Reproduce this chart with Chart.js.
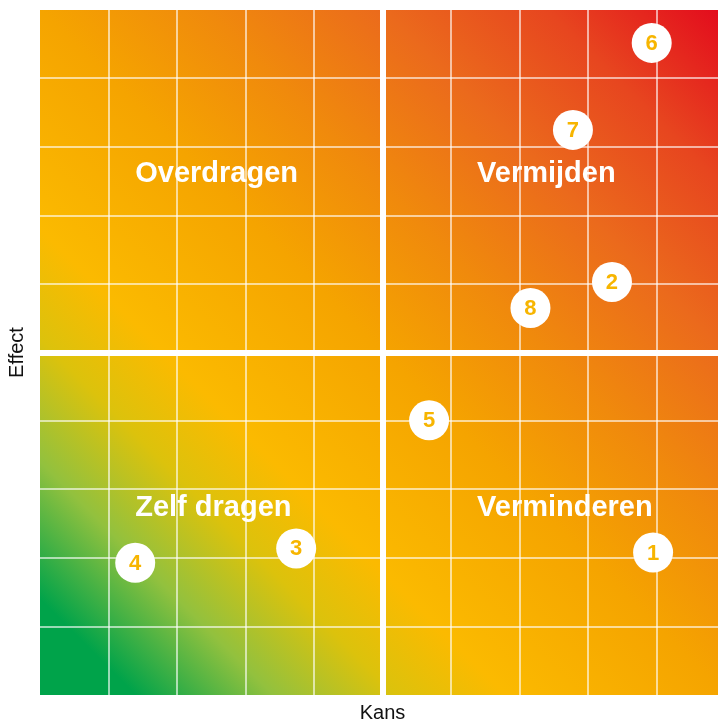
<!DOCTYPE html>
<html>
<head>
<meta charset="utf-8">
<script src="https://cdn.jsdelivr.net/npm/chart.js@4/dist/chart.umd.min.js"></script>
<style>
  html, body { margin: 0; padding: 0; background: #fff; overflow: hidden; }
  #chartReport { position: absolute; left: 0; top: 0; width: 725px; height: 726px; }
</style>
</head>
<body>
<div id="chartReport"><canvas id="chart"></canvas></div>
<script>
const riskLabels = ["1", "2", "3", "4", "5", "6", "7", "8"];
const kans = [8.95, 8.35, 3.74, 1.39, 5.68, 8.93, 7.78, 7.16];
const effect = [2.08, 6.03, 2.14, 1.93, 4.01, 9.52, 8.25, 5.65];

const quadrantLabels = ["Overdragen", "Vermijden", "Zelf dragen", "Verminderen"];
const quadrantKans = [1.39, 6.38, 1.39, 6.38];
const quadrantEffect = [7.6, 7.6, 2.73, 2.73];

const gradientStops = [
  [0, "#00a34a"],
  [0.07, "#00a34a"],
  [0.17, "#92c13e"],
  [0.26, "#dcc20c"],
  [0.34, "#fbba00"],
  [0.5, "#f5a400"],
  [0.62, "#f08a0c"],
  [0.75, "#eb6a1c"],
  [0.87, "#e7461f"],
  [1, "#e30a1d"],
];

const points = kans.map((k, i) => ({ x: k, y: effect[i] }));

// diagonal background, green bottom-left to red top-right
const backgroundPlugin = {
  id: "background",
  beforeDraw(chart) {
    const { ctx, chartArea } = chart;
    const g = ctx.createLinearGradient(chartArea.left, chartArea.bottom, chartArea.right, chartArea.top);
    gradientStops.forEach((s) => g.addColorStop(s[0], s[1]));
    ctx.save();
    ctx.fillStyle = g;
    ctx.fillRect(chartArea.left, chartArea.top, chartArea.right - chartArea.left, chartArea.bottom - chartArea.top);
    ctx.restore();
  },
  beforeDatasetsDraw(chart) {
    const { ctx, scales } = chart;
    ctx.save();
    ctx.fillStyle = "#ffffff";
    ctx.font = "bold 29px 'Liberation Sans', Arial, sans-serif";
    ctx.textAlign = "left";
    ctx.textBaseline = "middle";
    quadrantLabels.forEach((label, i) => {
      ctx.fillText(label, scales.x.getPixelForValue(quadrantKans[i]), scales.y.getPixelForValue(quadrantEffect[i]));
    });
    ctx.restore();
  },
  afterDatasetsDraw(chart) {
    const { ctx } = chart;
    const meta = chart.getDatasetMeta(0);
    ctx.save();
    ctx.fillStyle = "#f7b500";
    ctx.font = "bold 22px 'Liberation Sans', Arial, sans-serif";
    ctx.textAlign = "center";
    ctx.textBaseline = "middle";
    meta.data.forEach((el, i) => {
      ctx.fillText(riskLabels[i], el.x, el.y + 1);
    });
    ctx.restore();
  },
};

function gridColor(c) {
  if (c.tick.value === 5) return "#ffffff";
  if (c.tick.value === 0 || c.tick.value === 10) return "rgba(255,255,255,0)";
  return "rgba(255,255,255,0.6)";
}

function gridWidth(c) {
  return c.tick.value === 5 ? 6 : 2;
}

const ctx = document.getElementById("chart").getContext("2d");
const myChart = new Chart(ctx, {
  type: "scatter",
  data: {
    datasets: [
      {
        label: "Risico",
        data: points,
        pointRadius: 20,
        pointHoverRadius: 20,
        pointBackgroundColor: "#ffffff",
        pointBorderWidth: 0,
      },
    ],
  },
  options: {
    responsive: true,
    maintainAspectRatio: false,
    animation: false,
    layout: { autoPadding: false, padding: { top: 10, right: 0, left: 0, bottom: 0 } },
    plugins: { legend: { display: false }, tooltip: { enabled: false } },
    scales: {
      x: {
        type: "linear",
        min: 0,
        max: 10,
        ticks: { stepSize: 1, display: false },
        grid: { color: gridColor, lineWidth: gridWidth, drawTicks: false },
        border: { display: false },
        title: {
          display: true,
          text: "Kans",
          color: "#111111",
          font: { family: "'Liberation Sans', Arial, sans-serif", size: 20 },
          padding: { top: 0, bottom: 1 },
        },
        afterFit(scale) {
          scale.height = 31;
        },
      },
      y: {
        type: "linear",
        min: 0,
        max: 10,
        ticks: { stepSize: 1, display: false },
        grid: { color: gridColor, lineWidth: gridWidth, drawTicks: false },
        border: { display: false },
        title: {
          display: true,
          text: "Effect",
          color: "#111111",
          font: { family: "'Liberation Sans', Arial, sans-serif", size: 20 },
          padding: { top: 5, bottom: 0 },
        },
        afterFit(scale) {
          scale.width = 40;
        },
      },
    },
  },
  plugins: [backgroundPlugin],
});
</script>
</body>
</html>
